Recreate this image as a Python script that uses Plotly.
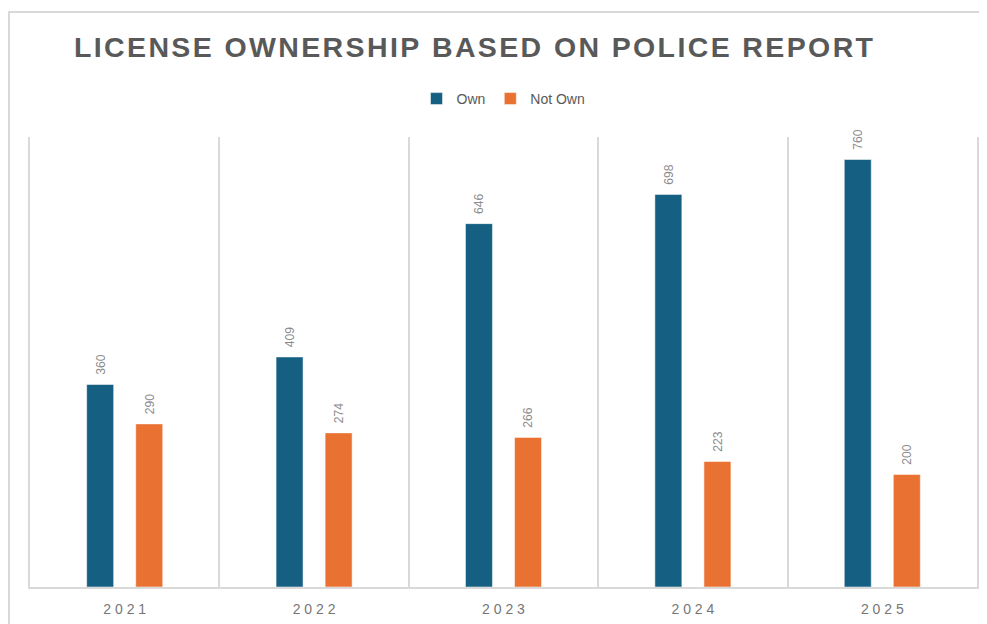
import plotly.graph_objects as go

years = ["2021", "2022", "2023", "2024", "2025"]
own = [360, 409, 646, 698, 760]
not_own = [290, 274, 266, 223, 200]
tick_text = ["2 0 2 1", "2 0 2 2", "2 0 2 3", "2 0 2 4", "2 0 2 5"]

title_text = "LICENSE OWNERSHIP BASED ON POLICE REPORT"
spaced_title = "\u200a".join(list(title_text))

OFF = 8  # page body margin
W, H = 987, 624
# target screen positions of the plot area
SX0, SX1, SY0, SY1 = 30, 977, 137, 587
L = SX0 - OFF
R = W - (SX1 - OFF)
T = SY0 - OFF
B = H - (SY1 - OFF)
pw, ph = W - L - R, H - T - B


def px(sx):
    return (sx - SX0) / pw


def py(sy):
    return (SY1 - sy) / ph


GAP = "\u00a0\u00a0"

fig = go.Figure()
fig.add_trace(go.Bar(
    x=years, y=own, name="Own", marker=dict(color="#156082", line=dict(color="#ffffff", width=0.5)),
    text=[GAP + str(v) for v in own], textposition="outside", textangle=-90,
    textfont=dict(size=15, color="#8c8c8c", family="Liberation Sans"), cliponaxis=False,
))
fig.add_trace(go.Bar(
    x=years, y=not_own, name="Not Own", marker=dict(color="#E97132", line=dict(color="#ffffff", width=0.5)),
    text=[GAP + str(v) for v in not_own], textposition="outside", textangle=-90,
    textfont=dict(size=15, color="#8c8c8c", family="Liberation Sans"), cliponaxis=False,
))

fig.update_layout(
    width=W, height=H,
    margin=dict(l=L, r=R, t=T, b=B),
    paper_bgcolor="white", plot_bgcolor="white",
    barmode="group", bargap=0.482, bargroupgap=0.45,
    title=dict(text="<b>" + spaced_title + "</b>", x=(473.5 - OFF) / W, xanchor="center",
               y=1 - (47.5 - OFF) / H, yanchor="middle",
               font=dict(family="Liberation Sans Narrow, Arial Narrow, sans-serif", size=28.5, color="#595959")),
    legend=dict(orientation="h", x=0.5, xanchor="center", y=py(99), yanchor="middle",
                font=dict(family="Liberation Sans, sans-serif", size=14, color="#595959"),
                traceorder="normal"),
    xaxis=dict(type="category", tickvals=years, ticktext=tick_text, tickson="boundaries",
               showgrid=True, gridcolor="#d9d9d9", gridwidth=1.5, ticks="",
               showline=True, linecolor="#d9d9d9", linewidth=1.5, ticklabelstandoff=8,
               tickfont=dict(family="Liberation Sans", size=14, color="#767676"), range=[-0.5, 4.5]),
    yaxis=dict(range=[0, 800], showgrid=False, showticklabels=False, zeroline=False,
               showline=True, mirror=True, linecolor="#d9d9d9", linewidth=1.5, ticks=""),
    shapes=[
        dict(type="line", xref="paper", yref="paper", x0=px(9), x1=px(9),
             y0=py(12), y1=py(640), line=dict(color="#d9d9d9", width=2)),
        dict(type="line", xref="paper", yref="paper", x0=px(8), x1=px(1000),
             y0=py(12), y1=py(12), line=dict(color="#d9d9d9", width=2)),
    ],
)

fig.write_html("out.html")
